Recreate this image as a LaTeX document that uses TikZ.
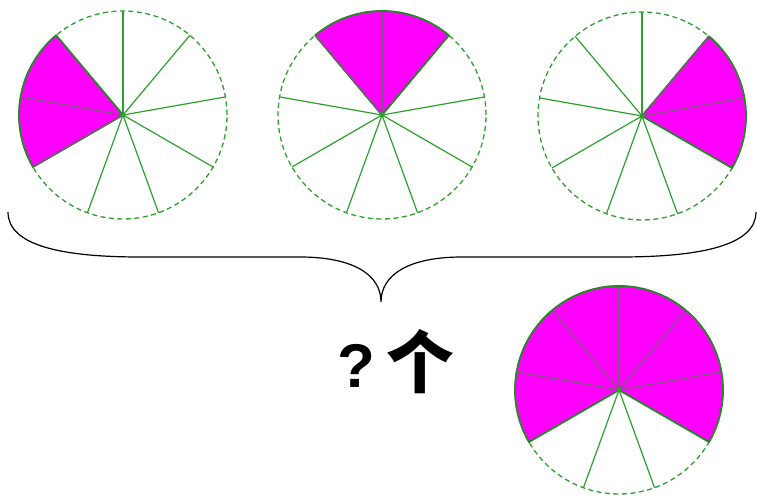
\documentclass[tikz,border=0pt]{standalone}
\usepackage{fontspec}
\usepackage{xcolor}
\newfontfamily\cjkfont{Noto Sans CJK SC}
\newfontfamily\markfont{Liberation Sans}
\definecolor{piegreen}{RGB}{44,160,44}
\definecolor{piemagenta}{RGB}{255,0,255}
\definecolor{pieseam}{RGB}{125,85,125}

\begin{document}
\begin{tikzpicture}[
    x=1bp,y=1bp,
    rim/.style={draw=piegreen,dash pattern=on 5bp off 3.5bp,line width=1.3bp},
    spoke/.style={draw=piegreen,line width=1.2bp},
    share/.style={fill=piemagenta,draw=piegreen!85!black,line width=1.8bp,line join=round},
    seam/.style={draw=pieseam,line width=1.3bp},
    hub/.style={fill=piegreen},
    brace/.style={draw=black,line width=1.2bp},
    qlabel/.style={inner sep=0pt,anchor=base west}
  ]
    \useasboundingbox (0,0) rectangle (757,500);

    % pie name / centre / shaded from and to angle
    \foreach \pie/\cx/\cy/\from/\to in {pieA/123/385/130/210,pieB/382/385/50/130,
        pieC/642/384/-30/50,pieD/619/110/-30/210}{
      \coordinate (\pie) at (\cx,\cy);
      \draw[rim] (\pie) circle[radius=104];
      \foreach \a in {-150,-110,...,170}
        \draw[spoke] (\pie) -- ++(\a:104);
      \draw[share] (\pie) -- ++(\from:104) arc[start angle=\from,end angle=\to,radius=104] -- cycle;
      \pgfmathtruncatemacro{\sa}{\from+40}
      \pgfmathtruncatemacro{\sb}{\from+80}
      \pgfmathtruncatemacro{\sc}{\to-40}
      \foreach \a in {\sa,\sb,...,\sc}
        \draw[seam] (\pie) -- ++(\a:103);
      \fill[hub] (\pie) circle[radius=2.5];
    }

    \coordinate (braceL) at (8,288);
    \coordinate (braceTip) at (381,198);
    \coordinate (braceR) at (756,288);
    \draw[brace] (braceL) .. controls (8,255) and (60,243) .. (140,243) -- (300,243)
      .. controls (352,243) and (381,226) .. (braceTip)
      .. controls (381,226) and (410,243) .. (462,243) -- (620,243)
      .. controls (702,243) and (756,255) .. (braceR);

    \node[qlabel] (count) at (337,112)
      {{\markfont\bfseries\fontsize{62}{62}\selectfont ?}\hspace{12bp}{\cjkfont\bfseries\fontsize{68}{68}\selectfont 个}};
\end{tikzpicture}
\end{document}
